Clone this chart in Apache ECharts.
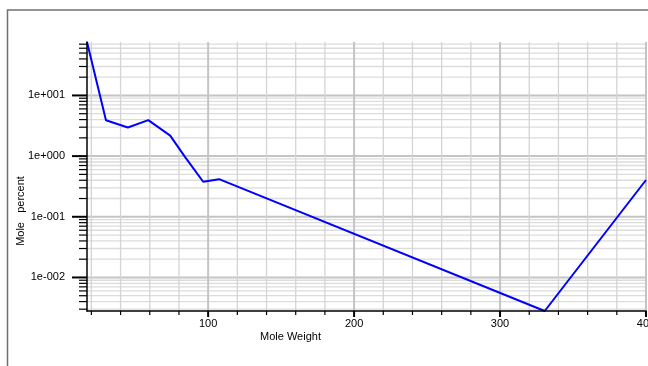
<!DOCTYPE html>
<html>
<head>
<meta charset="utf-8">
<script src="https://cdn.jsdelivr.net/npm/echarts@6/dist/echarts.min.js"></script>
<style>
html,body{margin:0;padding:0;background:#fff;}
#chart{width:648px;height:366px;}
</style>
</head>
<body>
<div id="chart"></div>
<script>
// ---- data ----
const moleWeight = [17, 30, 45, 59, 74, 84, 96.6, 107.5, 330.6, 400];
const molePercent = [76, 3.9, 2.96, 3.92, 2.18, 0.98, 0.378, 0.417, 0.0028, 0.404];

// axis ranges / tick positions
const X_MIN = 17, X_MAX = 400;
const Y_MIN = 0.0028, Y_MAX = 76;
const xLabelVals = [100, 200, 300, 400];
const xGridVals = [20, 40, 60, 80, 100, 120, 140, 160, 180, 200, 220, 240, 260, 280, 300, 320, 340, 360, 380, 400];
const yDecades = [0.01, 0.1, 1, 10];
const yMinor = [0.003, 0.004, 0.005, 0.006, 0.007, 0.008, 0.009,
                0.02, 0.03, 0.04, 0.05, 0.06, 0.07, 0.08, 0.09,
                0.2, 0.3, 0.4, 0.5, 0.6, 0.7, 0.8, 0.9,
                2, 3, 4, 5, 6, 7, 8, 9,
                20, 30, 40, 50, 60, 70];
const xTitle = 'Mole Weight';
const yTitle = 'Mole   percent';

const FONT = 'Liberation Sans';

function fmtExp(v) {
  const e = Math.round(Math.log10(v));
  const s = String(Math.abs(e)).padStart(3, '0');
  return '1e' + (e < 0 ? '-' : '+') + s;
}

// grid line items: [x, y, major]
const hItems = yDecades.map(v => [X_MIN, v, 1]).concat(yMinor.map(v => [X_MIN, v, 0]));
const vItems = xGridVals.map(v => [v, Y_MIN, v % 100 === 0 ? 1 : 0]);

const chart = echarts.init(document.getElementById('chart'), null, {renderer: 'canvas'});

const option = {
  animation: false,
  backgroundColor: '#fff',
  grid: {left: 87, top: 42, right: 2, bottom: 55, containLabel: false, outerBoundsMode: 'none'},
  xAxis: {
    type: 'value', min: X_MIN, max: X_MAX, z: 10,
    axisLine: {show: true, onZero: false, lineStyle: {color: '#000', width: 1.5}},
    axisTick: {show: false},
    splitLine: {show: false},
    axisLabel: {
      customValues: xLabelVals,
      color: '#000', fontFamily: FONT, fontSize: 11, margin: 7,
      formatter: v => String(v)
    }
  },
  yAxis: {
    type: 'log', logBase: 10, min: Y_MIN, max: Y_MAX, z: 10,
    axisLine: {show: true, onZero: false, lineStyle: {color: '#000', width: 1.5}},
    axisTick: {show: false},
    splitLine: {show: false},
    minorTick: {show: false}, minorSplitLine: {show: false},
    axisLabel: {
      showMinLabel: false, showMaxLabel: false,
      color: '#000', fontFamily: FONT, fontSize: 11, margin: 22,
      formatter: v => {
        const e = Math.log10(v);
        return Math.abs(e - Math.round(e)) < 1e-6 ? fmtExp(v) : '';
      }
    }
  },
  graphic: [
    {type: 'rect', z: 0, shape: {x: 7.5, y: 10, width: 700, height: 400},
     style: {fill: 'none', stroke: '#707070', lineWidth: 1.5}},
    {type: 'text', x: 260, y: 337, z: 10,
     style: {text: xTitle, font: '11px "Liberation Sans"', fill: '#000', align: 'left', verticalAlign: 'middle'}},
    {type: 'text', x: 21, y: 211, rotation: Math.PI / 2, z: 10,
     style: {text: yTitle, font: '11px "Liberation Sans"', fill: '#000', align: 'center', verticalAlign: 'middle'}}
  ],
  series: [
    {
      type: 'custom', z: 1, clip: false, silent: true,
      data: hItems,
      renderItem: (params, api) => {
        const v = api.value(1), major = api.value(2);
        const p0 = api.coord([X_MIN, v]);
        const p1 = api.coord([X_MAX, v]);
        const len = major ? 15 : 8;
        return {type: 'group', children: [
          {type: 'line', shape: {x1: p0[0], y1: p0[1], x2: p1[0], y2: p1[1]},
           style: {stroke: major ? '#c4c4c4' : '#dcdcdc', lineWidth: major ? 2 : 1.3}},
          {type: 'line', shape: {x1: p0[0] - len, y1: p0[1], x2: p0[0], y2: p0[1]},
           style: {stroke: '#000', lineWidth: major ? 2 : 1.2}}
        ]};
      }
    },
    {
      type: 'custom', z: 1, clip: false, silent: true,
      data: vItems,
      renderItem: (params, api) => {
        const v = api.value(0), major = api.value(2);
        const p0 = api.coord([v, Y_MIN]);
        const p1 = api.coord([v, Y_MAX]);
        const len = major ? 6 : 4;
        return {type: 'group', children: [
          {type: 'line', shape: {x1: p0[0], y1: p0[1], x2: p1[0], y2: p1[1]},
           style: {stroke: major ? '#c4c4c4' : '#d4d4d4', lineWidth: major ? 2 : 1.3}},
          {type: 'line', shape: {x1: p0[0], y1: p0[1], x2: p0[0], y2: p0[1] + len},
           style: {stroke: '#000', lineWidth: major ? 2 : 1.2}}
        ]};
      }
    },
    {
      type: 'line', z: 5, clip: true,
      data: moleWeight.map((x, i) => [x, molePercent[i]]),
      showSymbol: false, symbol: 'none',
      lineStyle: {color: '#0000ff', width: 2},
      itemStyle: {color: '#0000ff'}
    }
  ]
};
chart.setOption(option);
</script>
</body>
</html>
